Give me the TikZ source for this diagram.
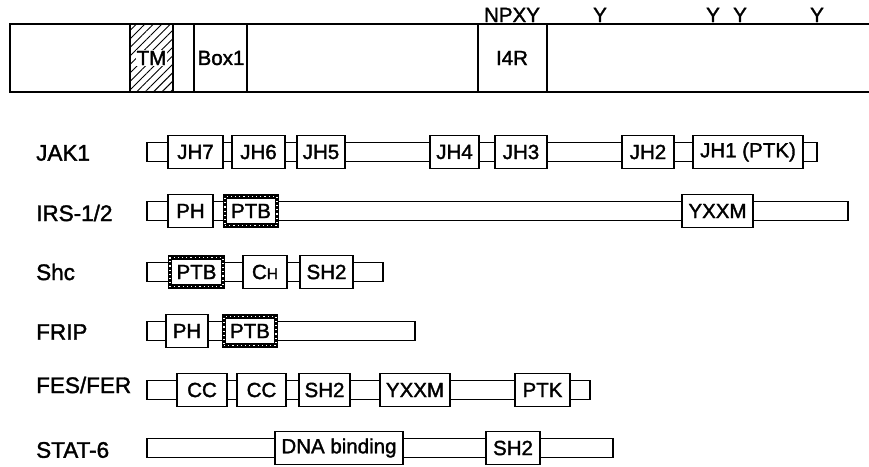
\documentclass[tikz,border=0pt]{standalone}
\usepackage{fontspec}
\setmainfont{Liberation Sans}
\newfontfamily\hvf[FakeBold=1.6]{Liberation Sans}
\usetikzlibrary{patterns.meta}
\newcommand\rowfont{\hvf\fontsize{22.5}{26}\selectfont}
\newcommand\boxfont{\hvf\fontsize{20.5}{24}\selectfont}
\newcommand\Dm[6]{\node[#1, minimum width={(#4-#3)*1pt}] (#2) at ({(#3+#4)/2},#5) {#6};}
\tikzset{
  dom/.style={draw, line width=1.6pt, fill=white, minimum height=33pt, inner sep=0pt, font=\boxfont},
  bar/.style={draw, line width=1.6pt, fill=white, minimum height=19pt, inner sep=0pt},
  ptb/.style={draw, line width=4.5pt, fill=white, minimum height=29pt, inner sep=0pt, font=\boxfont,
    postaction={draw=white, line width=1.2pt, dash pattern=on 1.2pt off 3pt}},
  rowlab/.style={anchor=west, inner sep=0pt, font=\rowfont},
  toplab/.style={anchor=base, inner sep=0pt, font=\boxfont},
  rline/.style={line width=1.8pt}
}
\begin{document}
\begin{tikzpicture}[x=1pt,y=-1pt]
\useasboundingbox (0,0) rectangle (869,466);
% receptor
\fill[pattern={Lines[angle=45,distance=6pt,line width=0.9pt]}] (130,24) rectangle (173,92);
\draw[rline] (869,24) -- (10,24) -- (10,92) -- (869,92);
\draw[rline] (130,24) -- (130,92);
\draw[rline] (173,24) -- (173,92);
\draw[rline] (194,24) -- (194,92);
\draw[rline] (247,24) -- (247,92);
\draw[rline] (478,24) -- (478,92);
\draw[rline] (547,24) -- (547,92);
\node[font=\boxfont, fill=white, inner sep=0.5pt] (tm) at (151.5,58) {TM};
\node[font=\boxfont, inner sep=0pt] (box1) at (221,58) {Box1};
\node[font=\boxfont, inner sep=0pt] (i4r) at (512,58) {I4R};
\node[toplab] (npxy) at (512,22) {NPXY};
\node[toplab] (y1) at (600,22) {Y};
\node[toplab] (y2) at (713,22) {Y};
\node[toplab] (y3) at (740,22) {Y};
\node[toplab] (y4) at (817,22) {Y};
% JAK1
\node[rowlab] (ljak) at (36,153) {JAK1};
\Dm{bar}{jakbar}{147}{817}{152}{}
\Dm{dom}{jh7}{168}{223}{152}{JH7}
\Dm{dom}{jh6}{232}{285}{152}{JH6}
\Dm{dom}{jh5}{297}{345}{152}{JH5}
\Dm{dom}{jh4}{430}{479}{152}{JH4}
\Dm{dom}{jh3}{495}{547}{152}{JH3}
\Dm{dom}{jh2}{622}{674}{152}{JH2}
\Dm{dom}{jh1}{693}{803}{152}{JH1 (PTK)}
% IRS
\node[rowlab] (lirs) at (36,213) {IRS-1/2};
\Dm{bar}{irsbar}{147}{848}{211}{}
\Dm{dom}{irsph}{168}{213}{211}{PH}
\Dm{ptb}{irsptb}{225}{277}{211}{PTB}
\Dm{dom}{irsy}{682}{753}{211}{YXXM}
% Shc
\node[rowlab] (lshc) at (36,272) {Shc};
\Dm{bar}{shcbar}{147}{383}{272}{}
\Dm{ptb}{shcptb}{170}{223}{272}{PTB}
\Dm{dom}{shcch}{243}{287}{272}{C{\fontsize{15.5}{18}\selectfont H}}
\Dm{dom}{shcsh}{300}{353}{272}{SH2}
% FRIP
\node[rowlab] (lfrip) at (36,332) {FRIP};
\Dm{bar}{fripbar}{147}{415}{331}{}
\Dm{dom}{fripph}{166}{208}{331}{PH}
\Dm{ptb}{frippt}{224}{276}{331}{PTB}
% FES/FER
\node[rowlab] (lfes) at (36,385) {FES/FER};
\Dm{bar}{fesbar}{147}{590}{390}{}
\Dm{dom}{cc1}{177}{227}{390}{CC}
\Dm{dom}{cc2}{237}{286}{390}{CC}
\Dm{dom}{fessh}{299}{350}{390}{SH2}
\Dm{dom}{fesy}{380}{450}{390}{YXXM}
\Dm{dom}{fesptk}{515}{570}{390}{PTK}
% STAT-6
\node[rowlab] (lstat) at (36,450) {STAT-6};
\Dm{bar}{statbar}{147}{613}{448}{}
\Dm{dom}{dna}{275}{403}{448}{DNA binding}
\Dm{dom}{statsh}{486}{540}{448}{SH2}
\end{tikzpicture}
\end{document}
